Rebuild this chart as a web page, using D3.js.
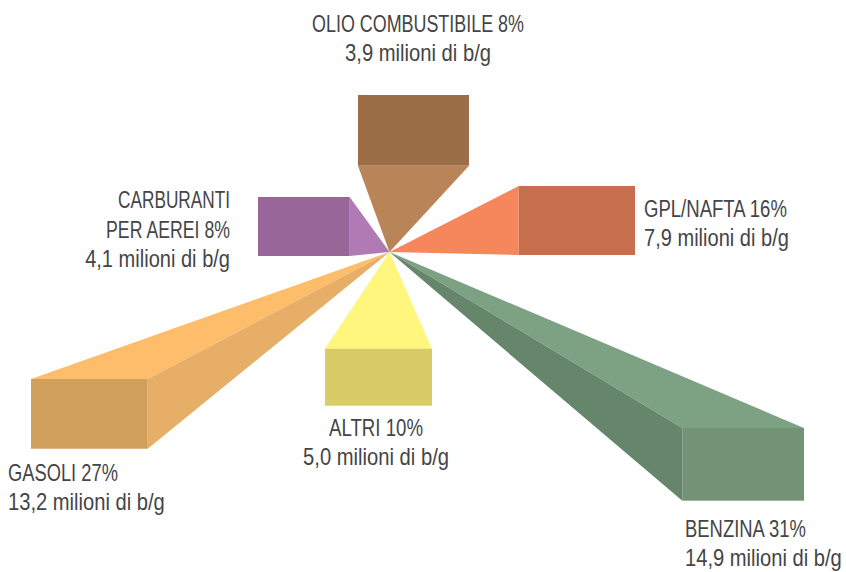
<!DOCTYPE html>
<html>
<head>
<meta charset="utf-8">
<script src="https://cdn.jsdelivr.net/npm/d3@7"></script>
<style>
  html, body { margin: 0; background: #fff; }
  text { font-family: "Liberation Sans", sans-serif; font-size: 23.5px; fill: #454545; }
</style>
</head>
<body>
<div id="chart"></div>
<script>
var categories = ['OLIO COMBUSTIBILE', 'GPL/NAFTA', 'BENZINA', 'ALTRI', 'GASOLI', 'CARBURANTI PER AEREI'];
var shares = [8, 16, 31, 10, 27, 8];
var millions = [3.9, 7.9, 14.9, 5.0, 13.2, 4.1];

// drawing scale: the bars run out of one vanishing point
var width = 846;
var height = 572;
var cx = 389.5;
var cy = 252;
var lineHeight = 29.2;

var sorted = d3.sort(millions);

var direction = d3.scaleOrdinal()
    .domain(categories)
    .range([11.15, 80.46, 120.98, 185.02, 241.66, 286.58]);

var distance = d3.scaleLinear().domain(sorted).range([124, 89.37, 125.7, 190, 341, 412.5]);
var barW = d3.scaleLinear().domain(sorted).range([111, 91.7, 107, 116.3, 116.7, 121.7]);
var barH = d3.scaleLinear().domain(sorted).range([70.7, 59, 57, 69, 69.7, 72.7]);

var frontColor = d3.scaleOrdinal().domain(categories)
    .range(['#9b6e47', '#c76e4d', '#739377', '#d9cc66', '#d19f5c', '#996699']);
// top/bottom face, then left/right face
var flatColor = d3.scaleOrdinal().domain(categories)
    .range(['#b98458', '#f6875d', '#7da183', '#fff67d', '#fdbd6b', '#b07ab5']);
var sideColor = d3.scaleOrdinal().domain(categories)
    .range(['#b98458', '#f6875d', '#66866b', '#fff67d', '#e6ae66', '#b07ab5']);

var bars = categories.map(function(c, i) {
    var a = direction(c) * Math.PI / 180;
    var r = distance(millions[i]);
    var w = barW(millions[i]);
    var h = barH(millions[i]);
    var mx = cx + r * Math.sin(a);
    var my = cy - r * Math.cos(a);
    return { name: c, x0: mx - w / 2, x1: mx + w / 2, y0: my - h / 2, y1: my + h / 2 };
});

function mil(i) {
    return d3.format('.1f')(millions[i]).replace('.', ',') + ' milioni di b/g';
}

// w = how wide each line is set, the face in the original is condensed
var labels = [
    { x: 418, y: 31.5, anchor: 'middle', lines: [categories[0] + ' ' + shares[0] + '%', mil(0)], w: [212, 146] },
    { x: 644, y: 216.7, anchor: 'start', lines: [categories[1] + ' ' + shares[1] + '%', mil(1)], w: [143, 145] },
    { x: 685, y: 537, anchor: 'start', lines: [categories[2] + ' ' + shares[2] + '%', mil(2)], w: [121, 157] },
    { x: 376, y: 435.5, anchor: 'middle', lines: [categories[3] + ' ' + shares[3] + '%', mil(3)], w: [94, 146] },
    { x: 8, y: 481, anchor: 'start', lines: [categories[4] + ' ' + shares[4] + '%', mil(4)], w: [110, 157] },
    { x: 230, y: 208.3, anchor: 'end', lines: ['CARBURANTI', 'PER AEREI ' + shares[5] + '%', mil(5)], w: [112, 124, 145] }
];

var svg = d3.select('#chart')
    .append('svg')
    .attr('width', width)
    .attr('height', height)
    .style('display', 'block');

function tri(x1, y1, x2, y2) {
    return 'M' + cx + ',' + cy + 'L' + x1 + ',' + y1 + 'L' + x2 + ',' + y2 + 'Z';
}

var bar = svg.selectAll('g.bar')
    .data(bars)
    .enter()
    .append('g')
    .attr('class', 'bar');

// only the faces turned towards the vanishing point can be seen
bar.each(function(d) {
    var g = d3.select(this);
    if (d.y0 > cy) {
        g.append('path').attr('d', tri(d.x0, d.y0, d.x1, d.y0)).attr('fill', flatColor(d.name));
    }
    if (d.y1 < cy) {
        g.append('path').attr('d', tri(d.x0, d.y1, d.x1, d.y1)).attr('fill', flatColor(d.name));
    }
    if (d.x0 > cx) {
        g.append('path').attr('d', tri(d.x0, d.y0, d.x0, d.y1)).attr('fill', sideColor(d.name));
    }
    if (d.x1 < cx) {
        g.append('path').attr('d', tri(d.x1, d.y0, d.x1, d.y1)).attr('fill', sideColor(d.name));
    }
    g.append('rect')
        .attr('x', d.x0)
        .attr('y', d.y0)
        .attr('width', d.x1 - d.x0)
        .attr('height', d.y1 - d.y0)
        .attr('fill', frontColor(d.name));
});

labels.forEach(function(l) {
    svg.selectAll(null)
        .data(l.lines)
        .enter()
        .append('text')
        .attr('class', 'label')
        .attr('text-anchor', l.anchor)
        .text(function(d) { return d; })
        .attr('transform', function(d, i) {
            var k = l.w[i] / this.getComputedTextLength();
            return 'translate(' + l.x + ',' + (l.y + i * lineHeight) + ')scale(' + k + ',1)';
        });
});
</script>
</body>
</html>
